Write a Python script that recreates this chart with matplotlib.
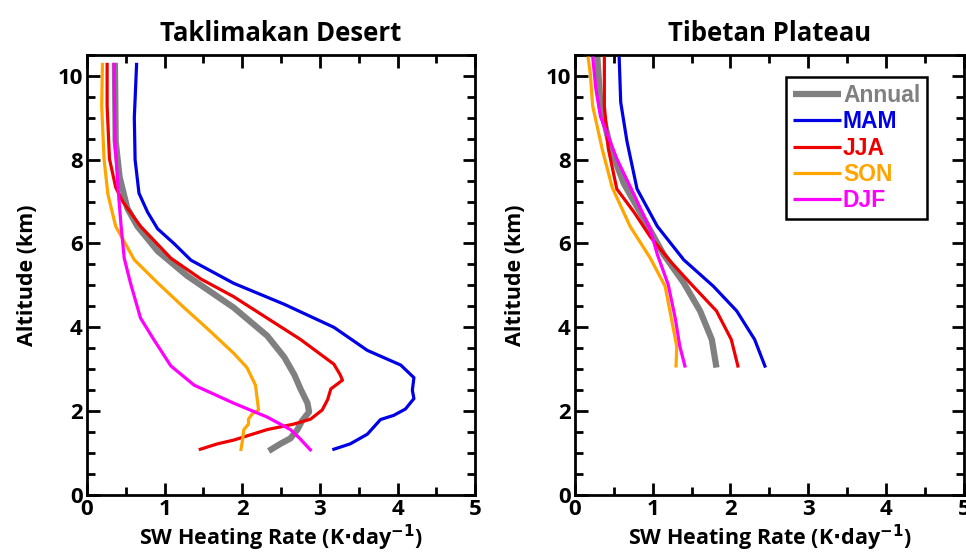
import matplotlib
matplotlib.use('Agg')
import matplotlib.pyplot as plt
from matplotlib.ticker import MultipleLocator

plt.rcParams['font.family'] = ['Open Sans', 'DejaVu Sans']
plt.rcParams['font.weight'] = 'bold'
plt.rcParams['mathtext.default'] = 'bf'

# Taklimakan Desert profiles (altitude km, heating rate K/day)
td_ann_alt = [10.31, 8.44, 7.59, 6.84, 6.41, 5.82, 5.23, 4.47, 3.80, 3.29, 2.87, 2.53, 2.19, 1.98, 1.77, 1.56, 1.35, 1.22, 1.05]
td_ann = [0.36, 0.37, 0.42, 0.52, 0.65, 0.91, 1.29, 1.89, 2.32, 2.54, 2.67, 2.75, 2.84, 2.86, 2.77, 2.71, 2.62, 2.49, 2.34]
td_mam_alt = [10.31, 9.0, 8.0, 7.2, 6.75, 6.35, 6.0, 5.6, 5.05, 4.55, 4.0, 3.45, 3.1, 2.8, 2.5, 2.3, 2.05, 1.9, 1.8, 1.45, 1.22, 1.08]
td_mam = [0.64, 0.61, 0.62, 0.67, 0.78, 0.91, 1.12, 1.34, 1.89, 2.54, 3.18, 3.61, 4.04, 4.21, 4.19, 4.21, 4.10, 3.95, 3.78, 3.61, 3.39, 3.16]
td_jja_alt = [10.31, 9.28, 8.02, 7.34, 7.0, 6.41, 5.65, 5.15, 4.73, 4.22, 3.71, 3.12, 2.87, 2.74, 2.53, 2.28, 2.03, 1.81, 1.69, 1.56, 1.31, 1.22, 1.08]
td_jja = [0.26, 0.26, 0.29, 0.37, 0.46, 0.69, 1.08, 1.47, 1.89, 2.32, 2.75, 3.18, 3.26, 3.29, 3.14, 3.10, 3.03, 2.88, 2.66, 2.32, 1.89, 1.68, 1.44]
td_son_alt = [10.31, 9.28, 8.02, 7.17, 6.41, 5.91, 5.61, 5.06, 4.47, 3.97, 3.38, 3.04, 2.62, 2.03, 1.94, 1.81, 1.69, 1.56, 1.27, 1.05]
td_son = [0.20, 0.19, 0.22, 0.27, 0.37, 0.52, 0.61, 0.91, 1.25, 1.55, 1.89, 2.06, 2.17, 2.21, 2.13, 2.08, 2.08, 2.02, 2.00, 1.98]
td_djf_alt = [10.31, 8.44, 7.09, 6.41, 5.65, 5.06, 4.22, 3.71, 3.08, 2.62, 2.19, 1.86, 1.56, 1.35, 1.05]
td_djf = [0.35, 0.36, 0.41, 0.44, 0.48, 0.56, 0.69, 0.86, 1.08, 1.38, 1.89, 2.32, 2.62, 2.74, 2.89]

# Tibetan Plateau profiles
tp_ann_alt = [10.46, 9.28, 8.27, 7.43, 6.58, 5.74, 5.06, 4.39, 3.71, 3.04]
tp_ann = [0.29, 0.33, 0.46, 0.63, 0.89, 1.14, 1.40, 1.61, 1.76, 1.82]
tp_mam_alt = [10.46, 9.37, 8.44, 7.30, 6.41, 5.61, 4.98, 4.39, 3.71, 3.04]
tp_mam = [0.57, 0.59, 0.67, 0.80, 1.06, 1.40, 1.78, 2.08, 2.31, 2.45]
tp_jja_alt = [10.46, 9.28, 8.27, 7.30, 6.75, 6.16, 5.57, 5.06, 4.39, 3.71, 3.04]
tp_jja = [0.38, 0.38, 0.43, 0.54, 0.76, 0.97, 1.23, 1.48, 1.82, 2.01, 2.10]
tp_son_alt = [10.46, 10.04, 9.28, 8.27, 7.34, 6.41, 5.65, 4.98, 4.22, 3.54, 3.04]
tp_son = [0.17, 0.20, 0.23, 0.35, 0.48, 0.71, 0.97, 1.16, 1.24, 1.31, 1.30]
tp_djf_alt = [10.46, 9.70, 9.03, 8.02, 7.17, 6.33, 5.74, 5.02, 4.22, 3.54, 3.04]
tp_djf = [0.23, 0.27, 0.33, 0.54, 0.76, 0.97, 1.06, 1.20, 1.29, 1.35, 1.42]

labels = ['Annual', 'MAM', 'JJA', 'SON', 'DJF']
colors = ['#808080', '#0000e6', '#ee0000', '#ffa500', '#ff00ff']
widths = [4.5, 2.3, 2.3, 2.3, 2.3]

panels = [
    ('Taklimakan Desert', [(td_ann, td_ann_alt), (td_mam, td_mam_alt), (td_jja, td_jja_alt),
                           (td_son, td_son_alt), (td_djf, td_djf_alt)]),
    ('Tibetan Plateau', [(tp_ann, tp_ann_alt), (tp_mam, tp_mam_alt), (tp_jja, tp_jja_alt),
                         (tp_son, tp_son_alt), (tp_djf, tp_djf_alt)]),
]

fig = plt.figure(figsize=(9.66, 5.54), dpi=100)
boxes = [[0.090, 0.1065, 0.402, 0.7945], [0.595, 0.1065, 0.403, 0.7945]]

for i, (title, series) in enumerate(panels):
    ax = fig.add_axes(boxes[i])
    handles = []
    for k in range(5):
        x, y = series[k]
        ln, = ax.plot(x, y, color=colors[k], lw=widths[k], label=labels[k],
                      solid_capstyle='butt', zorder=2 if k == 0 else 3)
        handles.append(ln)
    ax.set_xlim(0, 5)
    ax.set_ylim(0, 10.5)
    ax.xaxis.set_major_locator(MultipleLocator(1))
    ax.xaxis.set_minor_locator(MultipleLocator(0.5))
    ax.yaxis.set_major_locator(MultipleLocator(2))
    ax.yaxis.set_minor_locator(MultipleLocator(0.5))
    ax.tick_params(which='both', direction='in', top=True, right=True, width=2,
                   labelsize=16, pad=3)
    ax.tick_params(which='major', length=9)
    ax.tick_params(which='minor', length=5.5)
    for s in ax.spines.values():
        s.set_linewidth(2)
    for t in ax.get_xticklabels() + ax.get_yticklabels():
        t.set_fontweight('bold')
    ax.set_title(title, fontsize=18.5, fontweight='bold', pad=10)
    ax.set_xlabel(r'SW Heating Rate (K$\cdot$day$^{-1}$)', fontsize=15.5, fontweight='bold', labelpad=2)
    ax.set_ylabel('Altitude (km)', fontsize=15.5, fontweight='bold', labelpad=14)
    if i == 1:
        leg = ax.legend(handles=handles, loc='upper right',
                        bbox_to_anchor=(0.905, 0.95),
                        prop={'family': 'Liberation Sans', 'weight': 'bold', 'size': 16.5},
                        frameon=True, fancybox=False, edgecolor='black', framealpha=1,
                        handlelength=2.1, handletextpad=0.1, labelspacing=0.15,
                        borderpad=0.3, borderaxespad=0)
        leg.get_frame().set_linewidth(1.8)
        for txt, c in zip(leg.get_texts(), colors):
            txt.set_color(c)

fig.savefig('out.png', dpi=100)
